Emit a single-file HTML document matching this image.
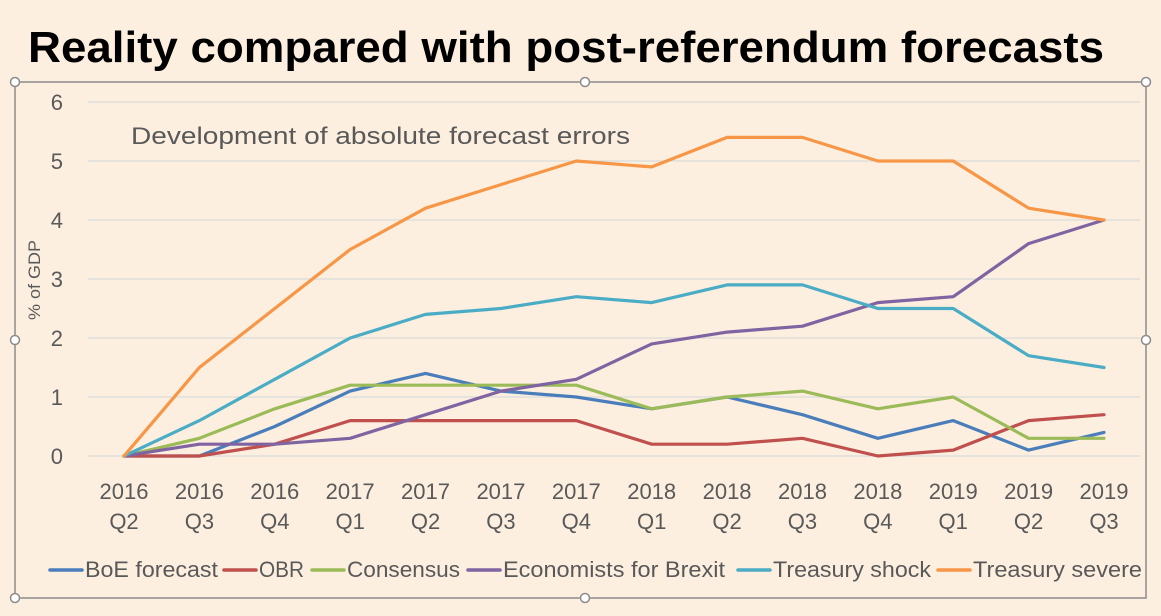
<!DOCTYPE html>
<html><head><meta charset="utf-8"><style>
body{margin:0;background:#fdefdf;font-family:"Liberation Sans",sans-serif;}
svg text{font-family:"Liberation Sans",sans-serif;}
</style></head><body>
<svg width="1161" height="611" viewBox="0 0 1161 611">
<rect width="1161" height="611" fill="#fdefdf"/>
<text x="28" y="62" font-size="44" font-weight="bold" fill="#000" textLength="1076" lengthAdjust="spacingAndGlyphs">Reality compared with post-referendum forecasts</text>
<rect x="15" y="82" width="1131" height="516" fill="none" stroke="#8c8c8c" stroke-width="1.5"/>
<g id="handles"></g>
<g id="grid"></g>
<g id="yt"></g>
<g id="xt"></g>
<text x="131" y="144" font-size="24" fill="#595959" textLength="499" lengthAdjust="spacingAndGlyphs">Development of absolute forecast errors</text>
<text transform="translate(40,280) rotate(-90)" text-anchor="middle" font-size="17" fill="#595959" textLength="80" lengthAdjust="spacingAndGlyphs">% of GDP</text>
<g id="lines"></g>
<g id="legend"></g>
</svg>
<script>
const categories=[["2016","Q2"],["2016","Q3"],["2016","Q4"],["2017","Q1"],["2017","Q2"],["2017","Q3"],["2017","Q4"],["2018","Q1"],["2018","Q2"],["2018","Q3"],["2018","Q4"],["2019","Q1"],["2019","Q2"],["2019","Q3"]];
const yTicks=[0,1,2,3,4,5,6];
const seriesNames=["BoE forecast","OBR","Consensus","Economists for Brexit","Treasury shock","Treasury severe"];
const seriesColors=["#4a7ebb","#c0504d","#9bbb59","#8064a2","#4bacc6","#f79646"];
const boe=[0,0,0.5,1.1,1.4,1.1,1.0,0.8,1.0,0.7,0.3,0.6,0.1,0.4];
const obr=[0,0,0.2,0.6,0.6,0.6,0.6,0.2,0.2,0.3,0,0.1,0.6,0.7];
const consensus=[0,0.3,0.8,1.2,1.2,1.2,1.2,0.8,1.0,1.1,0.8,1.0,0.3,0.3];
const efb=[0,0.2,0.2,0.3,0.7,1.1,1.3,1.9,2.1,2.2,2.6,2.7,3.6,4.0];
const tshock=[0,0.6,1.3,2.0,2.4,2.5,2.7,2.6,2.9,2.9,2.5,2.5,1.7,1.5];
const tsevere=[0,1.5,2.5,3.5,4.2,4.6,5.0,4.9,5.4,5.4,5.0,5.0,4.2,4.0];
const seriesValues=[boe,obr,consensus,efb,tshock,tsevere];
const NS="http://www.w3.org/2000/svg";
function mk(t,a,p){const e=document.createElementNS(NS,t);for(const k in a)e.setAttribute(k,a[k]);p.appendChild(e);return e;}
const x=i=>124+i*(1104-124)/(categories.length-1);
const y=v=>456-v*59;
const grid=document.getElementById('grid'),yt=document.getElementById('yt'),xt=document.getElementById('xt');
yTicks.forEach(v=>{
  const l=mk('line',{x1:88,x2:1140,y1:y(v),y2:y(v),stroke:'#d9d9d9','stroke-width':1.3},grid);
  
  
  const t=mk('text',{x:63,y:y(v)+8,'text-anchor':'end','font-size':22,fill:'#595959'},yt);t.textContent=v;
  
  
});
categories.forEach((c,i)=>{
  const t=mk('text',{x:x(i),y:499,'text-anchor':'middle','font-size':22,fill:'#595959'},xt);t.textContent=c[0];
  
  
  const t2=mk('text',{x:x(i),y:529,'text-anchor':'middle','font-size':22,fill:'#595959'},xt);t2.textContent=c[1];
  
  
});
const lines=document.getElementById('lines');
seriesValues.forEach((s,k)=>{
  const p=mk('polyline',{points:s.map((v,i)=>x(i)+','+y(v)).join(' '),fill:'none',stroke:seriesColors[k],'stroke-width':3.2,'stroke-linejoin':'round','stroke-linecap':'round'},lines);
  
  
});
const legend=document.getElementById('legend');
const lx=[50,224,312,468,738,938];
const lw=[133,45,113,222,158,169];
seriesNames.forEach((n,k)=>{
  const l=mk('line',{x1:lx[k],x2:lx[k]+32,y1:570,y2:570,stroke:seriesColors[k],'stroke-width':3.5,'stroke-linecap':'round'},legend);
  
  
  const t=mk('text',{x:lx[k]+35,y:577,'font-size':22,fill:'#595959',textLength:lw[k],lengthAdjust:'spacingAndGlyphs'},legend);t.textContent=n;
  
  
});
const handles=document.getElementById('handles');
[[15,82],[585,82],[1146,82],[15,340],[1146,340],[15,598],[585,598]].forEach(h=>{
  const c=mk('circle',{cx:h[0],cy:h[1],r:4.5,fill:'#fff',stroke:'#8c8c8c','stroke-width':1.5},handles);
  
  
});
</script>
</body></html>
